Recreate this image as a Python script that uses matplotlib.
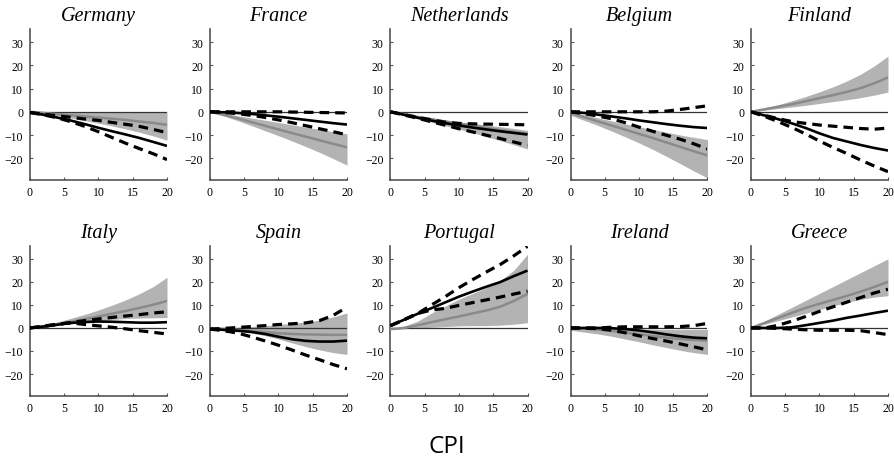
import numpy as np
import matplotlib
matplotlib.use("Agg")
import matplotlib.pyplot as plt

horizon = [0, 2, 4, 6, 8, 10, 12, 14, 16, 18, 20]
countries = ["Germany", "France", "Netherlands", "Belgium", "Finland",
             "Italy", "Spain", "Portugal", "Ireland", "Greece"]

band_hi = {
    "Germany":     [0, 0, 0, 0, 0, 0, 0, 0, 0, 0, 0],
    "France":      [0, -0.8, -1.7, -2.6, -3.6, -4.6, -5.6, -6.6, -7.6, -8.6, -9.5],
    "Netherlands": [0, -0.9, -1.8, -2.7, -3.5, -4.3, -5.0, -5.7, -6.4, -7.2, -8.0],
    "Belgium":     [0, -1.3, -2.6, -3.9, -5.2, -6.4, -7.6, -8.8, -10.0, -11.0, -12.0],
    "Finland":     [0, 1.5, 3.1, 4.8, 6.6, 8.6, 10.8, 13.3, 16.2, 19.8, 24.0],
    "Italy":       [0, 1.2, 2.6, 4.2, 5.9, 7.8, 9.9, 12.2, 14.9, 18.0, 22.0],
    "Spain":       [0, 0.1, 0.3, 0.6, 1.0, 1.5, 2.0, 2.6, 3.4, 4.8, 6.5],
    "Portugal":    [-0.5, 0.8, 3.0, 6.5, 9.5, 12.5, 15.0, 17.5, 20.5, 25.0, 32.0],
    "Ireland":     [0.5, 0.3, 0, -0.2, -0.4, -0.5, -0.6, -0.7, -0.7, -0.7, -0.7],
    "Greece":      [0, 3, 6, 9, 12, 15, 18, 21, 24, 27, 30],
}
band_lo = {
    "Germany":     [0, -0.8, -1.7, -2.7, -3.8, -4.9, -6.1, -7.4, -8.8, -10.4, -12.2],
    "France":      [0, -1.8, -3.8, -5.9, -8.1, -10.3, -12.6, -15.0, -17.5, -20.2, -23.0],
    "Netherlands": [0, -1.5, -3.0, -4.5, -6.0, -7.5, -9.0, -10.7, -12.4, -14.2, -16.0],
    "Belgium":     [-1.5, -3.7, -5.9, -8.3, -10.8, -13.4, -16.2, -19.2, -22.3, -25.5, -28.5],
    "Finland":     [0, 0.7, 1.4, 2.1, 2.8, 3.6, 4.4, 5.2, 6.1, 7.2, 8.5],
    "Italy":       [0, 0.5, 1.1, 1.8, 2.5, 3.2, 3.7, 4.1, 4.3, 4.4, 4.5],
    "Spain":       [-1, -1.2, -1.5, -2.2, -3.3, -4.8, -6.5, -8.1, -9.5, -10.7, -11.5],
    "Portugal":    [-0.5, -0.3, 0, 0.3, 0.6, 0.9, 1.0, 1.0, 1.2, 1.6, 2.3],
    "Ireland":     [-1, -1.8, -2.6, -3.6, -4.8, -6.0, -7.3, -8.5, -9.7, -10.7, -11.5],
    "Greece":      [0, 1.6, 3.2, 4.8, 6.4, 8.0, 9.6, 11.1, 12.4, 13.4, 14.0],
}
median = {
    "Germany":     [0, -0.5, -1.0, -1.5, -2.0, -2.5, -3.0, -3.5, -4.2, -4.8, -5.6],
    "France":      [0, -1.3, -2.8, -4.4, -6.0, -7.6, -9.2, -10.7, -12.3, -13.8, -15.3],
    "Netherlands": [0, -1.1, -2.2, -3.2, -4.2, -5.1, -6.0, -6.9, -7.8, -8.6, -9.4],
    "Belgium":     [-0.5, -2.3, -4.1, -5.9, -7.7, -9.5, -11.3, -13.2, -15.1, -17.0, -18.8],
    "Finland":     [0, 1.1, 2.2, 3.3, 4.6, 5.9, 7.2, 8.6, 10.2, 12.3, 14.8],
    "Italy":       [0, 0.8, 1.7, 2.7, 3.8, 5.0, 6.2, 7.4, 8.7, 10.1, 11.7],
    "Spain":       [0, -0.4, -0.8, -1.3, -1.8, -2.3, -2.6, -2.8, -2.9, -3.0, -3.0],
    "Portugal":    [-0.5, 0, 1.2, 2.5, 3.8, 5.0, 6.3, 7.6, 9.2, 11.7, 14.8],
    "Ireland":     [0, -0.3, -0.7, -1.3, -2.0, -2.8, -3.5, -4.2, -4.8, -5.2, -5.5],
    "Greece":      [0, 2.2, 4.4, 6.6, 8.7, 10.5, 12.2, 13.9, 15.8, 17.8, 20.0],
}
point = {
    "Germany":     [-0.3, -1.3, -2.5, -3.8, -5.3, -6.9, -8.4, -9.8, -11.3, -13.0, -14.7],
    "France":      [0, -0.2, -0.5, -0.9, -1.5, -2.1, -2.8, -3.5, -4.2, -4.9, -5.5],
    "Netherlands": [0, -1.3, -2.6, -3.8, -4.9, -5.9, -6.8, -7.6, -8.4, -9.1, -9.8],
    "Belgium":     [0, -0.5, -1.2, -2.0, -2.8, -3.7, -4.5, -5.3, -6.0, -6.6, -7.0],
    "Finland":     [0, -1.6, -3.2, -5.0, -7.0, -9.3, -11.3, -12.8, -14.3, -15.6, -16.7],
    "Italy":       [0, 0.6, 1.4, 2.2, 2.6, 2.8, 2.7, 2.5, 2.3, 2.3, 2.5],
    "Spain":       [-0.5, -0.8, -1.2, -1.7, -2.6, -3.8, -4.9, -5.6, -5.9, -5.9, -5.5],
    "Portugal":    [1, 3.6, 6.2, 8.6, 11.1, 13.6, 15.8, 17.9, 19.9, 22.5, 24.9],
    "Ireland":     [0, 0, 0, -0.1, -0.5, -1.1, -1.9, -2.8, -3.6, -4.2, -4.5],
    "Greece":      [0, 0, 0, 0.3, 1.2, 2.2, 3.2, 4.4, 5.4, 6.5, 7.5],
}
ci_hi = {
    "Germany":     [-0.3, -1.0, -1.7, -2.4, -3.1, -3.7, -4.6, -5.4, -6.3, -7.6, -9.0],
    "France":      [0, 0, 0, 0, 0, 0, -0.1, -0.2, -0.3, -0.4, -0.5],
    "Netherlands": [0, -1.2, -2.4, -3.5, -4.5, -5.0, -5.2, -5.3, -5.4, -5.5, -5.6],
    "Belgium":     [0, 0, 0, 0, 0, 0, 0, 0.3, 1.0, 1.8, 2.6],
    "Finland":     [0, -1.5, -3.0, -4.2, -5.0, -5.7, -6.2, -6.7, -7.2, -7.5, -7.0],
    "Italy":       [0, 0.7, 1.5, 2.4, 3.2, 3.9, 4.6, 5.2, 5.8, 6.5, 7.0],
    "Spain":       [-0.5, -0.2, 0.2, 0.6, 1.0, 1.5, 1.8, 2.2, 3.2, 5.5, 9.0],
    "Portugal":    [1, 3.6, 6.3, 10.0, 13.6, 17.5, 21.0, 24.3, 27.5, 31.3, 35.4],
    "Ireland":     [0, 0, 0, 0.3, 0.5, 0.5, 0.5, 0.5, 0.6, 1.0, 2.0],
    "Greece":      [0, 0, 1.2, 3.0, 5.0, 7.2, 9.2, 11.2, 13.2, 15.2, 16.8],
}
ci_lo = {
    "Germany":     [-0.3, -1.3, -2.6, -4.3, -6.3, -8.6, -11.1, -13.6, -15.9, -18.1, -20.6],
    "France":      [0, -0.3, -0.8, -1.5, -2.4, -3.5, -4.7, -6.0, -7.3, -8.6, -9.9],
    "Netherlands": [0, -1.4, -2.8, -4.3, -5.8, -7.3, -8.7, -10.1, -11.5, -13.0, -14.5],
    "Belgium":     [0, -0.8, -1.8, -3.0, -4.7, -6.6, -8.4, -10.1, -11.8, -13.8, -16.0],
    "Finland":     [0, -2.0, -4.3, -6.8, -9.6, -12.6, -15.4, -18.0, -20.8, -23.4, -25.8],
    "Italy":       [0, 0.8, 1.7, 2.2, 1.5, 0.9, 0.3, -0.4, -1.2, -1.9, -2.6],
    "Spain":       [-0.5, -1.2, -2.2, -3.8, -5.6, -7.5, -9.6, -11.8, -13.8, -15.9, -17.7],
    "Portugal":    [1, 3.6, 6.3, 7.8, 8.5, 9.8, 11.0, 12.2, 13.4, 14.7, 16.0],
    "Ireland":     [0, -0.1, -0.3, -1.0, -2.1, -3.4, -4.6, -5.7, -6.9, -8.2, -9.5],
    "Greece":      [0, 0, -0.2, -0.5, -0.8, -1.0, -1.0, -1.0, -1.2, -2.0, -2.9],
}
x_ticks = [0, 5, 10, 15, 20]
y_ticks = [-20, -10, 0, 10, 20, 30]
y_tick_labels = ["\u221220", "\u221210", "0", "10", "20", "30"]
super_label = "CPI"

W, H = 895, 460
fig = plt.figure(figsize=(W / 100, H / 100), dpi=100)

lefts = [30, 210, 390.5, 570.5, 751]
ax_w = 137
rows = [(30, 181), (246.7, 396.7)]

serif = "Liberation Serif"
for i, c in enumerate(countries):
    r, col = divmod(i, 5)
    top, bot = rows[r]
    ax = fig.add_axes([lefts[col] / W, 1 - bot / H, ax_w / W, (bot - top) / H])
    ax.fill_between(horizon, band_lo[c], band_hi[c], color="#b3b3b3", lw=0, zorder=1)
    ax.axhline(0, color="#333333", lw=0.9, zorder=2)
    ax.plot(horizon, median[c], color="#8a8a8a", lw=1.8, zorder=3)
    ax.plot(horizon, point[c], color="black", lw=1.9, zorder=4,
            solid_capstyle="butt")
    for s in (ci_hi[c], ci_lo[c]):
        ax.plot(horizon, s, color="black", lw=2.3, ls=(0, (3.0, 1.9)), zorder=5,
                dash_capstyle="butt")
    ax.set_xlim(0, 20)
    ax.set_ylim(-29.4, 35.7)
    ax.set_xticks(x_ticks)
    ax.set_xticklabels([str(t) for t in x_ticks], fontfamily=serif, fontsize=8.5)
    ax.set_yticks(y_ticks)
    ax.set_yticklabels(y_tick_labels, fontfamily=serif, fontsize=8.5)
    ax.tick_params(direction="in", length=2.5, width=0.8, color="#555555")
    ax.tick_params(axis="x", pad=4.5)
    ax.tick_params(axis="y", pad=5)
    for side in ("top", "right"):
        ax.spines[side].set_visible(False)
    for side in ("left", "bottom"):
        ax.spines[side].set_color("#555555")
        ax.spines[side].set_linewidth(1.2)
    ax.patch.set_alpha(0)
    ax.set_title(c, fontfamily=serif, fontstyle="italic", fontweight="normal",
                 fontsize=14.5, pad=6.5)

fig.text(447 / W, 1 - 453 / H, super_label, ha="center", va="baseline",
         fontfamily="Open Sans", fontsize=17.5)

fig.savefig("out.png", dpi=100)
